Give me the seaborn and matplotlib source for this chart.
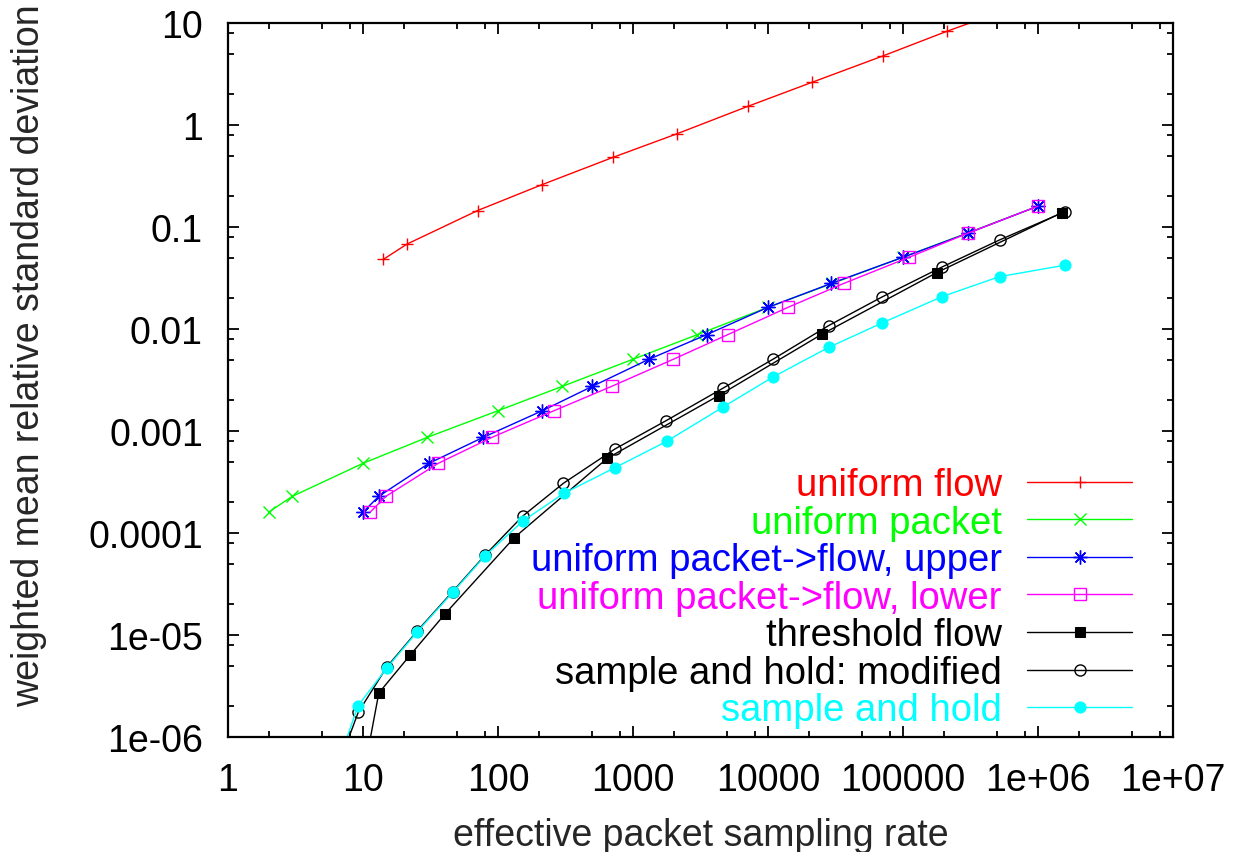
import matplotlib
matplotlib.use("Agg")
import matplotlib.pyplot as plt
import matplotlib.ticker as mticker
import seaborn as sns

# series
flow_x = [14.1, 21.2, 70.7, 212, 707, 2120, 7070, 21200, 70700, 212000, 707000]
flow_y = [0.048, 0.068, 0.145, 0.26, 0.48, 0.82, 1.52, 2.62, 4.74, 8.3, 14.7]

packet_x = [2, 3, 10, 30, 100, 300, 1000, 3000, 10000, 30000, 100000, 300000, 1000000]
packet_y = [1.6e-4, 2.29e-4, 4.82e-4, 8.67e-4, 1.58e-3, 2.74e-3, 5.05e-3, 8.8e-3,
            0.0163, 0.028, 0.0505, 0.0873, 0.16]

upper_x = [10, 13.1, 30.8, 77.8, 213, 500, 1314, 3515, 10000, 29500, 100000, 305000, 1000000]
upper_y = packet_y

lower_x = [11.3, 14.8, 36.1, 90.3, 260, 695, 1990, 5036, 14070, 36560, 111000, 305000, 1000000]
lower_y = packet_y

thresh_x = [10, 13.1, 22.4, 40.7, 132, 645, 4305, 25050, 178000, 1500000]
thresh_y = [4e-7, 2.7e-6, 6.37e-6, 1.62e-5, 9.0e-5, 5.4e-4, 2.22e-3, 8.87e-3, 0.0357, 0.138]

modified_x = [6, 9.23, 15, 25.3, 46.2, 80.5, 152, 305, 736, 1755, 4625, 10970, 28150,
              69500, 193000, 519000, 1580000]
modified_y = [3.8e-7, 1.75e-6, 4.85e-6, 1.1e-5, 2.67e-5, 6.1e-5, 1.46e-4, 3.07e-4, 6.67e-4,
              1.26e-3, 2.62e-3, 5.08e-3, 0.0108, 0.0205, 0.0403, 0.0746, 0.141]

sh_x = [6, 9.2, 15, 25.3, 46.2, 80.5, 154, 308, 736, 1778, 4625, 10970, 28150, 69500,
        195500, 519000, 1580000]
sh_y = [4e-7, 2.03e-6, 4.74e-6, 1.08e-5, 2.62e-5, 6.0e-5, 1.32e-4, 2.45e-4, 4.37e-4,
        7.92e-4, 1.71e-3, 3.4e-3, 6.6e-3, 0.0114, 0.0208, 0.0326, 0.0422]

x_ticks = [1, 10, 100, 1000, 10000, 100000, 1e6, 1e7]
x_labels = ["1", "10", "100", "1000", "10000", "100000", "1e+06", "1e+07"]
y_ticks = [1e-6, 1e-5, 1e-4, 1e-3, 1e-2, 1e-1, 1, 10]
y_labels = ["1e-06", "1e-05", "0.0001", "0.001", "0.01", "0.1", "1", "10"]

sns.set_style("ticks")
plt.rcParams["font.family"] = ["Liberation Sans", "DejaVu Sans"]
FS = 27

fig = plt.figure(figsize=(12.33, 8.53), dpi=100)
ax = fig.add_axes([0.1849, 0.1348, 0.7664, 0.8371])

series = [
    (flow_x, flow_y, "uniform flow", "#ff0000", dict(marker="+", markersize=9, mew=1.0)),
    (packet_x, packet_y, "uniform packet", "#00ff00", dict(marker="x", markersize=8, mew=1.0)),
    (upper_x, upper_y, "uniform packet->flow, upper", "#0000ff",
     dict(marker=(8, 2, 0), markersize=10, mew=1.0)),
    (lower_x, lower_y, "uniform packet->flow, lower", "#ff00ff",
     dict(marker="s", markersize=8, mfc="none", mew=1.0)),
    (thresh_x, thresh_y, "threshold flow", "#000000", dict(marker="s", markersize=7.5)),
    (modified_x, modified_y, "sample and hold: modified", "#000000",
     dict(marker="o", markersize=8, mfc="none", mew=1.0)),
    (sh_x, sh_y, "sample and hold", "#00ffff", dict(marker="o", markersize=8)),
]

for xs, ys, name, col, mk in series:
    sns.lineplot(x=xs, y=ys, ax=ax, color=col, linewidth=1.0, label=name,
                 estimator=None, sort=False, markeredgecolor=col, **mk)

ax.set_xscale("log")
ax.set_yscale("log")
ax.set_xlim(1, 1e7)
ax.set_ylim(1e-6, 10)

ax.xaxis.set_major_locator(mticker.FixedLocator(x_ticks))
ax.xaxis.set_major_formatter(mticker.FixedFormatter(x_labels))
ax.yaxis.set_major_locator(mticker.FixedLocator(y_ticks))
ax.yaxis.set_major_formatter(mticker.FixedFormatter(y_labels))
ax.xaxis.set_minor_locator(mticker.LogLocator(base=10, subs=(2, 5, 8), numticks=20))
ax.yaxis.set_minor_locator(mticker.LogLocator(base=10, subs=(2, 5, 8), numticks=20))
ax.xaxis.set_minor_formatter(mticker.NullFormatter())
ax.yaxis.set_minor_formatter(mticker.NullFormatter())

ax.tick_params(which="both", direction="in", top=True, right=True, colors="black",
               labelsize=FS, width=1.3)
ax.tick_params(which="major", length=8, pad=18)
ax.tick_params(which="minor", length=4.5)
for sp in ax.spines.values():
    sp.set_linewidth(1.6)
    sp.set_color("black")

ax.set_xlabel("effective packet sampling rate", fontsize=FS, labelpad=14)
ax.set_ylabel("weighted mean relative standard deviation", fontsize=FS)
ax.yaxis.set_label_coords(-0.191, 0.535)

ax.legend(loc="lower right", bbox_to_anchor=(0.957, 0.012), markerfirst=False,
          labelcolor="linecolor", frameon=False, fontsize=27.5, handlelength=2.75,
          handletextpad=0.67, labelspacing=0.04, borderpad=0, borderaxespad=0)

fig.savefig("out.png", dpi=100)
